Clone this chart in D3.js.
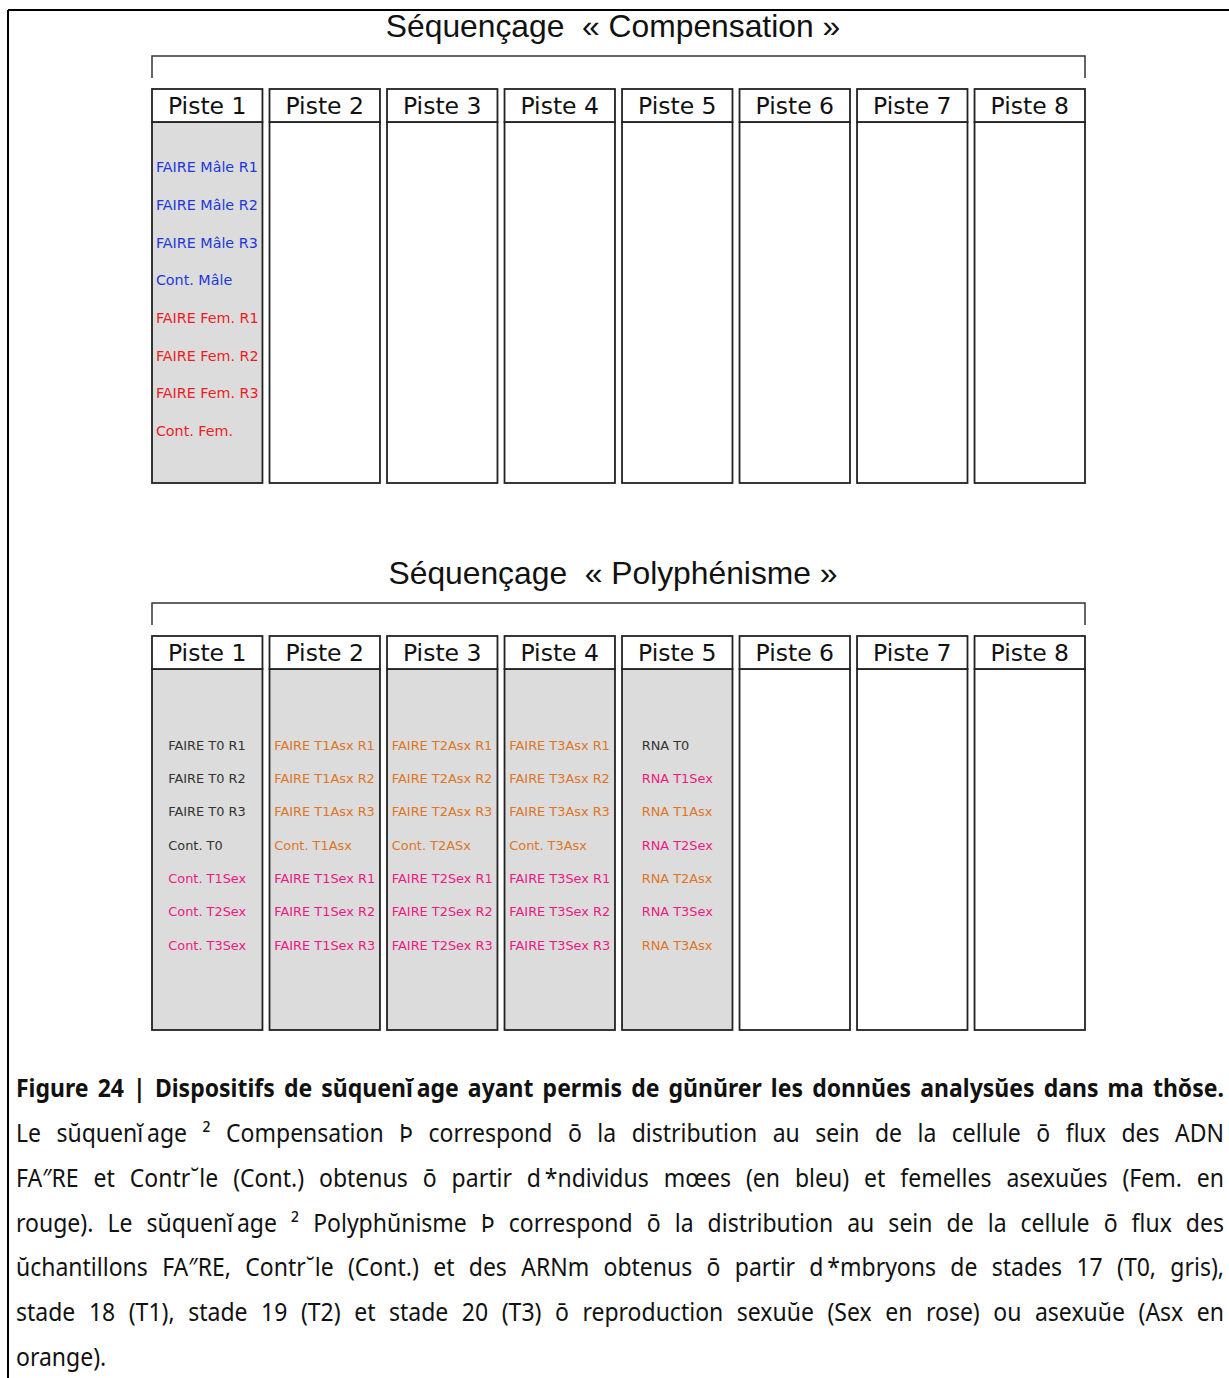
<!DOCTYPE html>
<html>
<head>
<meta charset="utf-8">
<script src="https://cdn.jsdelivr.net/npm/d3@7"></script>
<style>
  body { margin: 0; background: #fff; }
</style>
</head>
<body>
<div id="fig"></div>
<script>
var w = 1229;
var h = 1378;

// lanes of the flow cell
var lanes = ["Piste 1", "Piste 2", "Piste 3", "Piste 4", "Piste 5", "Piste 6", "Piste 7", "Piste 8"];

var titleComp = "Séquençage  « Compensation »";
var titlePoly = "Séquençage  « Polyphénisme »";

// Compensation: lane index, label, group
var compSamples = [
    [0, "FAIRE Mâle R1", "male"],
    [0, "FAIRE Mâle R2", "male"],
    [0, "FAIRE Mâle R3", "male"],
    [0, "Cont. Mâle", "male"],
    [0, "FAIRE Fem. R1", "fem"],
    [0, "FAIRE Fem. R2", "fem"],
    [0, "FAIRE Fem. R3", "fem"],
    [0, "Cont. Fem.", "fem"]
];

// Polyphenisme: lane index, label, group
var polySamples = [
    [0, "FAIRE T0 R1", "t0"], [0, "FAIRE T0 R2", "t0"], [0, "FAIRE T0 R3", "t0"], [0, "Cont. T0", "t0"],
    [0, "Cont. T1Sex", "sex"], [0, "Cont. T2Sex", "sex"], [0, "Cont. T3Sex", "sex"],
    [1, "FAIRE T1Asx R1", "asx"], [1, "FAIRE T1Asx R2", "asx"], [1, "FAIRE T1Asx R3", "asx"], [1, "Cont. T1Asx", "asx"],
    [1, "FAIRE T1Sex R1", "sex"], [1, "FAIRE T1Sex R2", "sex"], [1, "FAIRE T1Sex R3", "sex"],
    [2, "FAIRE T2Asx R1", "asx"], [2, "FAIRE T2Asx R2", "asx"], [2, "FAIRE T2Asx R3", "asx"], [2, "Cont. T2ASx", "asx"],
    [2, "FAIRE T2Sex R1", "sex"], [2, "FAIRE T2Sex R2", "sex"], [2, "FAIRE T2Sex R3", "sex"],
    [3, "FAIRE T3Asx R1", "asx"], [3, "FAIRE T3Asx R2", "asx"], [3, "FAIRE T3Asx R3", "asx"], [3, "Cont. T3Asx", "asx"],
    [3, "FAIRE T3Sex R1", "sex"], [3, "FAIRE T3Sex R2", "sex"], [3, "FAIRE T3Sex R3", "sex"],
    [4, "RNA T0", "t0"], [4, "RNA T1Sex", "sex"], [4, "RNA T1Asx", "asx"], [4, "RNA T2Sex", "sex"],
    [4, "RNA T2Asx", "asx"], [4, "RNA T3Sex", "sex"], [4, "RNA T3Asx", "asx"]
];

var captionTitle = "Figure 24 | Dispositifs de sŭquenĭ\u2009age ayant permis de gŭnŭrer les donnŭes analysŭes dans ma thŏse.";
var captionLines = [
    "Le sŭquenĭ\u2009age \u00b2 Compensation Þ correspond ō la distribution au sein de la cellule ō flux des ADN",
    "FA″RE et Contr˘le (Cont.) obtenus ō partir d\u2009*ndividus mœes (en bleu) et femelles asexuŭes (Fem. en",
    "rouge). Le sŭquenĭ\u2009age \u00b2 Polyphŭnisme Þ correspond ō la distribution au sein de la cellule ō flux des",
    "ŭchantillons FA″RE, Contr˘le (Cont.) et des ARNm obtenus ō partir d\u2009*mbryons de stades 17 (T0, gris),",
    "stade 18 (T1), stade 19 (T2) et stade 20 (T3) ō reproduction sexuŭe (Sex en rose) ou asexuŭe (Asx en",
    "orange)."
];

var color = d3.scaleOrdinal()
    .domain(["male", "fem", "t0", "sex", "asx"])
    .range(["#2138d8", "#ec1c24", "#333333", "#ec1a82", "#de7525"]);

var svg = d3.select("#fig")
    .append("svg")
        .attr("width", w)
        .attr("height", h);

// page frame (top + left only)
svg.append("line").attr("x1", 8).attr("x2", w).attr("y1", 10).attr("y2", 10)
    .attr("stroke", "#000").attr("stroke-width", 2);
svg.append("line").attr("x1", 8).attr("x2", 8).attr("y1", 10).attr("y2", h)
    .attr("stroke", "#000").attr("stroke-width", 2);

var x = d3.scaleBand()
    .domain(lanes)
    .range([152, 1085])
    .paddingInner(0.06);

function drawPanel(top, title, samples, rowRange, fontSize) {
    var g = svg.append("g");

    g.append("text")
        .attr("x", 613)
        .attr("y", top)
        .attr("text-anchor", "middle")
        .style("font-family", "Liberation Sans, Arial, sans-serif")
        .style("font-size", "31.8px")
        .style("white-space", "pre")
        .attr("fill", "#111")
        .text(title);

    // bracket over the lanes
    var by = top + 19, bb = top + 41;
    g.append("path")
        .attr("d", "M" + x.range()[0] + "," + bb + "V" + by + "H" + x.range()[1] + "V" + bb)
        .attr("fill", "none")
        .attr("stroke", "#333")
        .attr("stroke-width", 1.5);

    var headTop = top + 52, headH = 33, bodyBottom = top + 446;
    var usedLanes = Array.from(new Set(samples.map(function(d){ return d[0]; })));

    var lane = g.selectAll("g.lane")
        .data(lanes)
        .enter()
        .append("g")
        .attr("class", "lane");

    lane.append("rect")
        .attr("x", function(d){ return x(d); })
        .attr("y", headTop + headH)
        .attr("width", x.bandwidth())
        .attr("height", bodyBottom - headTop - headH)
        .attr("fill", function(d, i){ return usedLanes.indexOf(i) >= 0 ? "#dcdcdc" : "#fff"; })
        .attr("stroke", "#222")
        .attr("stroke-width", 1.8);

    lane.append("rect")
        .attr("x", function(d){ return x(d); })
        .attr("y", headTop)
        .attr("width", x.bandwidth())
        .attr("height", headH)
        .attr("fill", "#fff")
        .attr("stroke", "#222")
        .attr("stroke-width", 1.8);

    lane.append("text")
        .attr("x", function(d){ return x(d) + x.bandwidth() / 2; })
        .attr("y", headTop + headH / 2 + 8.5)
        .attr("text-anchor", "middle")
        .style("font-family", "DejaVu Sans, Verdana, sans-serif")
        .style("font-size", "23.5px")
        .attr("fill", "#111")
        .text(function(d){ return d; });

    // sample labels, left aligned as a block centred in its lane
    var byLane = d3.group(samples, function(d){ return d[0]; });
    byLane.forEach(function(rows, li) {
        var y = d3.scalePoint()
            .domain(d3.range(rows.length))
            .range(rowRange);
        var txt = g.selectAll(null)
            .data(rows)
            .enter()
            .append("text")
            .attr("y", function(d, i){ return y(i) + fontSize * 0.36; })
            .style("font-family", "DejaVu Sans, Verdana, sans-serif")
            .style("font-size", fontSize + "px")
            .attr("fill", function(d){ return color(d[2]); })
            .text(function(d){ return d[1]; });
        var maxW = d3.max(txt.nodes(), function(n){ return n.getComputedTextLength(); });
        var cx = x(lanes[li]) + x.bandwidth() / 2;
        txt.attr("x", cx - maxW / 2);
    });
}

drawPanel(37, titleComp, compSamples, [167, 431], 14.3);
drawPanel(584, titlePoly, polySamples, [745, 945], 12.9);

// caption, justified between 16 and 1224
var cx0 = 16, cx1 = 1224;
function captionLine(str, y, bold, justify) {
    var words = str.split(" ");
    var fs = 25;
    var tmp = svg.append("g");
    var nodes = words.map(function(wd){
        return tmp.append("text")
            .style("font-family", "Noto Sans, Open Sans, sans-serif")
            .style("font-size", fs + "px")
            .style("font-weight", bold ? "700" : "400")
            .attr("fill", "#111")
            .text(wd);
    });
    var widths = nodes.map(function(n){ return n.node().getComputedTextLength(); });
    var sum = d3.sum(widths);
    var s = 0.92;
    var minGap = bold ? 7 : 9;
    if (justify && sum * s + minGap * (words.length - 1) > cx1 - cx0) {
        s = (cx1 - cx0 - minGap * (words.length - 1)) / sum;
    }
    var gap = justify ? (cx1 - cx0 - sum * s) / Math.max(1, words.length - 1) : 7;
    var pos = cx0;
    nodes.forEach(function(n, i){
        n.attr("transform", "translate(" + pos + "," + y + ") scale(" + s + ",1)");
        pos += widths[i] * s + gap;
    });
}

captionLine(captionTitle, 1097, true, true);
captionLines.forEach(function(l, i){
    captionLine(l, 1142 + i * 44.8, false, i < captionLines.length - 1);
});
</script>
</body>
</html>
